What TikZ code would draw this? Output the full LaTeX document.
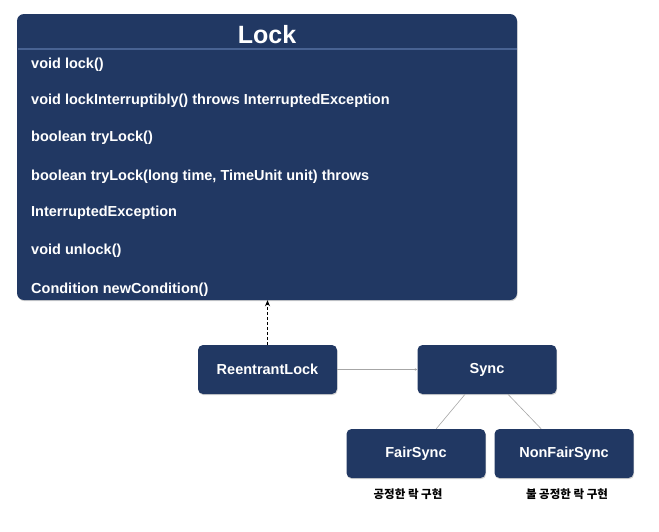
\documentclass[tikz,border=0pt]{standalone}
\usepackage{fontspec}
\setmainfont{Liberation Sans}
\newfontfamily\kofont{Noto Sans CJK KR}
\usepackage{tikz}
\usetikzlibrary{arrows.meta,positioning,calc,shadows}
\usepackage{xcolor}
\definecolor{navy}{RGB}{33,56,99}
\definecolor{navyrule}{RGB}{72,98,146}

\begin{document}
\begin{tikzpicture}[x=1pt, y=-1pt,
  shade/.style={drop shadow={opacity=0.35, shadow xshift=0.6pt, shadow yshift=-1.2pt}},
  classbox/.style={fill=navy, rounded corners=7pt, shade, minimum width=500pt, minimum height=286pt, inner sep=0pt},
  implbox/.style={fill=navy, rounded corners=5pt, shade, minimum width=139pt, minimum height=49pt, inner sep=0pt,
    text=white, font=\bfseries\fontsize{14.5}{17}\selectfont},
  title/.style={text=white, font=\bfseries\fontsize{25}{28}\selectfont, inner sep=0pt},
  method/.style={anchor=west, text=white, font=\bfseries\fontsize{14.5}{17}\selectfont, inner sep=0pt},
  note/.style={font=\kofont\bfseries\fontsize{11.5}{13}\selectfont, inner sep=0pt},
  link/.style={draw=gray!70, line width=0.6pt}
]
\useasboundingbox (0,0) rectangle (659,531);

% interface
\node[classbox] (lock) at (267,157) {};
\node[title] (locktitle) at (267,35) {Lock};
\draw[navyrule, line width=1.2pt] (17.5,49) -- (516.5,49);

\node[method] (m1) at (31,65) {void lock()};
\node[method] (m2) at (31,101) {void lockInterruptibly() throws InterruptedException};
\node[method] (m3) at (31,138) {boolean tryLock()};
\node[method] (m4) at (31,177) {boolean tryLock(long time, TimeUnit unit) throws};
\node[method] (m5) at (31,213) {InterruptedException};
\node[method] (m6) at (31,251) {void unlock()};
\node[method] (m7) at (31,290) {Condition newCondition()};

% implementations
\node[implbox] (reentrant) at (267.5,369.5) {ReentrantLock};
\node[implbox] (sync) at (487,369.5) {Sync};
\node[implbox] (fair) at (416,453.5) {FairSync};
\node[implbox] (nonfair) at (564,453.5) {NonFairSync};

\node[note] (fairnote) at (408,494) {공정한 락 구현};
\node[note] (nonfairnote) at (567,494) {불 공정한 락 구현};

\draw[-{Stealth[length=6pt,width=5pt]}, dashed, dash pattern=on 3pt off 2pt, line width=1.2pt]
  (reentrant.north) -- (reentrant.north |- lock.south);
\draw[link, -{Stealth[length=2.5pt,width=2.5pt]}] (reentrant.east) -- (sync.west);
\draw[link] ($(fair.north west)!0.645!(fair.north east)$) -- ($(sync.south west)!0.343!(sync.south east)$);
\draw[link] ($(nonfair.north west)!0.336!(nonfair.north east)$) -- ($(sync.south west)!0.65!(sync.south east)$);
\end{tikzpicture}
\end{document}
